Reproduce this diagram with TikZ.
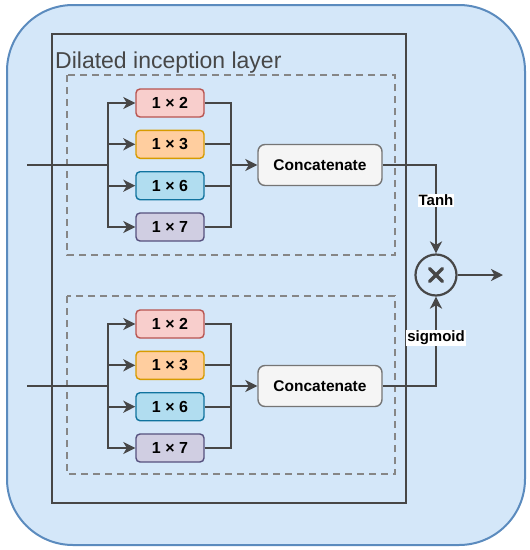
\documentclass[tikz,border=0pt]{standalone}
\usepackage{fontspec}
\setmainfont{Liberation Sans}
\usetikzlibrary{arrows.meta,positioning}

\definecolor{bgfill}{HTML}{D4E7F9}
\definecolor{bgline}{HTML}{5B8BBE}
\definecolor{ink}{HTML}{474747}
\definecolor{redfill}{HTML}{F8CECC}\definecolor{redline}{HTML}{B85450}
\definecolor{orgfill}{HTML}{FFCE9F}\definecolor{orgline}{HTML}{D79B00}
\definecolor{blufill}{HTML}{B1DDF0}\definecolor{bluline}{HTML}{10739E}
\definecolor{purfill}{HTML}{D0CEE2}\definecolor{purline}{HTML}{56517E}

\begin{document}
\begin{tikzpicture}[x=1pt, y=-1pt,
  kernel/.style n args={2}{draw=#1, fill=#2, rounded corners=4pt, line width=1.4pt,
    minimum width=68pt, minimum height=28pt, font=\bfseries\fontsize{16}{18}\selectfont},
  concat/.style={draw=ink!75, fill=gray!8, rounded corners=7pt, line width=1.4pt,
    minimum width=124pt, minimum height=41pt, font=\bfseries\fontsize{15.5}{18}\selectfont},
  line/.style={draw=ink, line width=2.2pt},
  arrow/.style={line, -{Stealth[length=12pt, width=12pt, inset=3.5pt]}},
  lbl/.style={fill=white, inner sep=1pt, font=\bfseries\fontsize{15}{17}\selectfont},
  dashbox/.style={draw=gray!95, line width=2.2pt, dash pattern=on 7pt off 5pt},
]
\useasboundingbox (0,0) rectangle (530,550);
% outer block
\draw[fill=bgfill, draw=bgline, line width=2pt, rounded corners=66pt] (7,5) rectangle (525,545);
\draw[draw=ink, line width=2.6pt] (52,34) rectangle (406,503);
\node[anchor=base west, text=ink, font=\fontsize{23}{26}\selectfont, inner sep=0pt] (title) at (55,68) {Dilated inception layer};
\draw[dashbox] (67,75) rectangle (395,255);
\draw[dashbox] (67,296) rectangle (395,474);

% two branches
\foreach \g/\cy in {a/165, b/386} {
  \coordinate (in-\g) at (27,\cy);
  \coordinate (split-\g) at (108,\cy);
  \coordinate (merge-\g) at (231,\cy);
  \node[concat] (cat-\g) at (320,\cy) {Concatenate};
  \foreach \k/\dy/\st/\fl [count=\i] in {2/-62/redline/redfill, 3/-20.7/orgline/orgfill,
      6/20.7/bluline/blufill, 7/62/purline/purfill} {
    \node[kernel={\st}{\fl}] (k-\g-\i) at (170,\cy+\dy) {1 × \k};
    \draw[arrow] (split-\g) |- (k-\g-\i.west);
    \draw[line] (k-\g-\i.east) -| (merge-\g);
  }
  \draw[line] (in-\g) -- (split-\g);
  \draw[arrow] (merge-\g) -- (cat-\g.west);
}

% gating
\node[circle, draw=ink, line width=2.2pt, minimum size=41pt, inner sep=0pt] (mul) at (436,275) {};
\draw[ink, line width=3.4pt, line cap=round] ([shift={(-6.5,-6.5)}]mul.center) -- ([shift={(6.5,6.5)}]mul.center);
\draw[ink, line width=3.4pt, line cap=round] ([shift={(-6.5,6.5)}]mul.center) -- ([shift={(6.5,-6.5)}]mul.center);
\coordinate (out) at (503,275);
\draw[arrow] (cat-a.east) -| node[lbl, pos=0.7] {Tanh} (mul.north);
\draw[arrow] (cat-b.east) -| node[lbl, pos=0.77] {sigmoid} (mul.south);
\draw[arrow] (mul.east) -- (out);
\end{tikzpicture}
\end{document}
